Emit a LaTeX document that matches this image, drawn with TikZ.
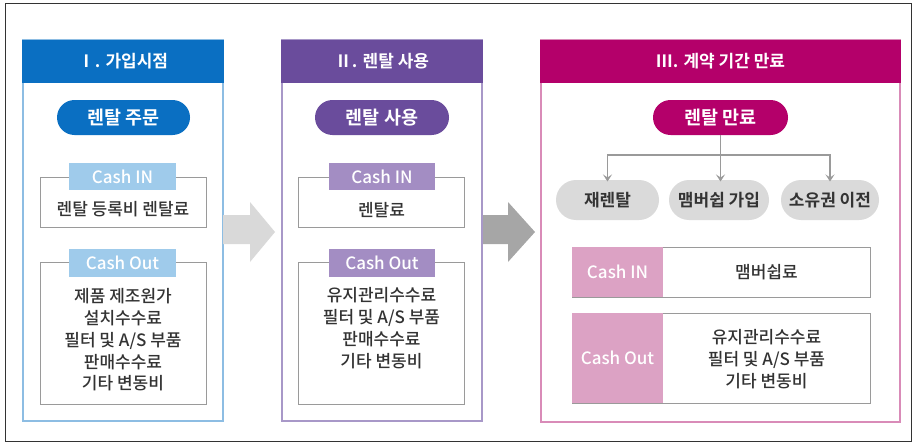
\documentclass[tikz,border=0pt]{standalone}
\usepackage{fontspec}
\usetikzlibrary{arrows.meta}
\setmainfont{Noto Sans CJK KR Medium}
\newfontfamily\krbold{Noto Sans CJK KR Bold}
\definecolor{blueH}{HTML}{0A6FC2}
\definecolor{blueTab}{HTML}{9FCBEB}
\definecolor{blueBd}{HTML}{8DBDE3}
\definecolor{purpH}{HTML}{6A4C9C}
\definecolor{purpTab}{HTML}{A38DC3}
\definecolor{purpBd}{HTML}{A898C8}
\definecolor{magH}{HTML}{B4006A}
\definecolor{pinkTab}{HTML}{DCA2C4}
\definecolor{magBd}{HTML}{D98BB8}
\definecolor{pillGray}{HTML}{DADADA}
\definecolor{txt}{HTML}{333333}
\definecolor{arrA}{HTML}{D9D9D9}
\definecolor{arrB}{HTML}{A6A6A6}
\definecolor{boxBd}{HTML}{9A9A9A}
\begin{document}
\begin{tikzpicture}[x=1pt,y=-1pt,
  box/.style={inner sep=0pt, outer sep=0pt, anchor=center},
  panel/.style={box, draw=#1, line width=1.3pt, fill=white},
  header/.style={box, fill=#1, text=white, font=\krbold\fontsize{17}{19}\selectfont, minimum height=43pt},
  pill/.style={box, fill=#1, text=white, rounded corners=17.5pt, minimum height=35pt, font=\krbold\fontsize{18.5}{20}\selectfont},
  cbox/.style={box, draw=boxBd, line width=0.8pt, fill=white, minimum width=166pt},
  tab/.style={box, fill=#1, text=white, minimum width=107pt, minimum height=27pt, font=\fontsize{17}{19}\selectfont},
  body/.style={box, text=txt, align=center, font=\fontsize{17}{21.8}\selectfont},
  gpill/.style={box, fill=pillGray, text=txt, rounded corners=20pt, minimum height=40pt, font=\krbold\fontsize{17}{19}\selectfont},
  conn/.style={draw=boxBd, line width=1.2pt},
  connarrow/.style={conn, -{Stealth[length=7pt,width=9pt,inset=3pt]}}
]
\useasboundingbox (0,0) rectangle (915,444);
\draw[line width=1pt, draw=txt] (5,4) rectangle (911,441);

% ---------- Panel I ----------
\node[panel=blueBd, minimum width=200pt, minimum height=381pt] (p1) at (123,230.5) {};
\node[header=blueH, minimum width=201.3pt] (h1) at (123,61.5) {Ⅰ. 가입시점};
\node[pill=blueH, minimum width=133pt] (o1) at (123.5,117.5) {렌탈 주문};
\node[cbox, minimum height=50pt] (in1) at (123,202) {};
\node[tab=blueTab] (tin1) at (122.5,176.5) {Cash IN};
\node[body] (vin1) at (123,209) {렌탈 등록비 렌탈료};
\node[cbox, minimum height=142pt] (out1) at (123,333) {};
\node[tab=blueTab, minimum height=28pt] (tout1) at (122.5,262.5) {Cash Out};
\node[body] (vout1) at (123,340) {제품 제조원가\\설치수수료\\필터 및 A/S 부품\\판매수수료\\기타 변동비};

% ---------- Arrow 1 ----------
\fill[arrA] (223,215) -- (250,215) -- (250,202) -- (275,232) -- (250,262) -- (250,244) -- (223,244) -- cycle;

% ---------- Panel II ----------
\node[panel=purpBd, minimum width=200pt, minimum height=381pt] (p2) at (382,230.5) {};
\node[header=purpH, minimum width=201.3pt] (h2) at (382,61.5) {Ⅱ. 렌탈 사용};
\node[pill=purpH, minimum width=134pt] (o2) at (382,117.5) {렌탈 사용};
\node[cbox, minimum height=50pt] (in2) at (381.5,202) {};
\node[tab=purpTab, minimum width=106pt] (tin2) at (382,176.5) {Cash IN};
\node[body] (vin2) at (381.5,210) {렌탈료};
\node[cbox, minimum height=142pt] (out2) at (381.5,333) {};
\node[tab=purpTab, minimum width=106pt, minimum height=28pt] (tout2) at (382,262.5) {Cash Out};
\node[body] (vout2) at (381.5,328) {유지관리수수료\\필터 및 A/S 부품\\판매수수료\\기타 변동비};

% ---------- Arrow 2 ----------
\fill[arrB] (483,215) -- (508,215) -- (508,202) -- (535,232) -- (508,262) -- (508,244) -- (483,244) -- cycle;

% ---------- Panel III ----------
\node[panel=magBd, minimum width=359pt, minimum height=382pt] (p3) at (720.5,231) {};
\node[header=magH, minimum width=360.3pt] (h3) at (720.5,61.5) {Ⅲ. 계약 기간 만료};
\node[pill=magH, minimum width=135pt] (o3) at (720.5,117.5) {렌탈 만료};
\node[gpill, minimum width=103pt] (g1) at (607.5,200) {재렌탈};
\node[gpill, minimum width=100pt] (g2) at (719,200) {맴버쉽 가입};
\node[gpill, minimum width=98pt] (g3) at (830,200) {소유권 이전};
\coordinate (br) at (720.5,155);
\draw[conn] (o3.south) -- (br);
\draw[connarrow] (br) -| ([yshift=-1.5pt]g1.north);
\draw[connarrow] (br) -- ([yshift=-1.5pt]g2.north -| br);
\draw[connarrow] (br) -| ([yshift=-1.5pt]g3.north);

\node[box, draw=boxBd, line width=0.8pt, minimum width=298pt, minimum height=50pt] (in3) at (721,272) {};
\node[box, fill=pinkTab, text=white, minimum width=91pt, minimum height=50pt, font=\fontsize{17}{19}\selectfont] (tin3) at (617.5,272) {Cash IN};
\node[body] (vin3) at (766.5,272) {맴버쉽료};
\node[box, draw=boxBd, line width=0.8pt, minimum width=298pt, minimum height=90pt] (out3) at (721,358) {};
\node[box, fill=pinkTab, text=white, minimum width=91pt, minimum height=90pt, font=\fontsize{17}{19}\selectfont] (tout3) at (617.5,358) {Cash Out};
\node[body] (vout3) at (766.5,359) {유지관리수수료\\필터 및 A/S 부품\\기타 변동비};
\end{tikzpicture}
\end{document}
